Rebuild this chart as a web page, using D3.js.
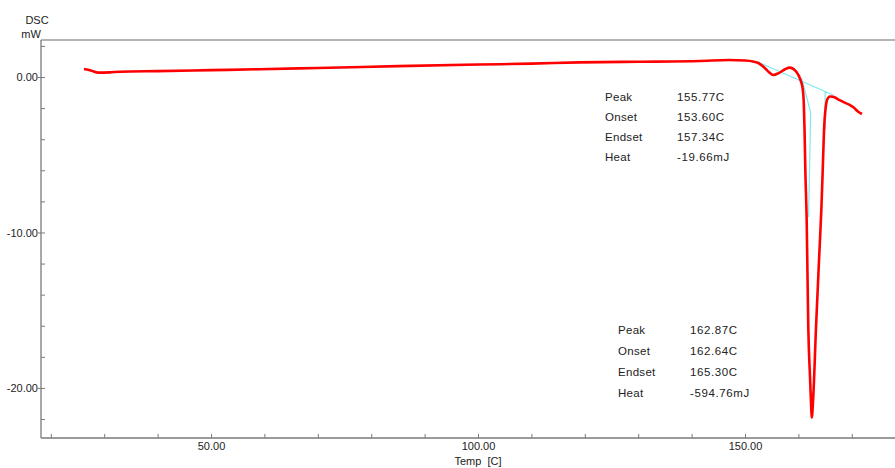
<!DOCTYPE html>
<html><head><meta charset="utf-8">
<script src="https://cdn.jsdelivr.net/npm/d3@7"></script>
<style>body{margin:0;background:#fff}svg{display:block;font-family:"Liberation Sans",Arial,sans-serif}</style>
</head><body><svg id="c" width="895" height="468"></svg>
<script>
// Temperature [C]
const temps = [26.2,27.5,28.9,31,33,40,50,59,70,85,100,110,119,130,141.6,147,150,151.5,152.5,153.5,154.5,155.3,156.3,157.5,158.4,159.2,160.0,160.5,160.8,161.0,161.15,161.3,161.55,161.85,162.2,162.4,162.5,162.75,163.3,163.9,164.3,164.6,164.8,165.1,165.4,165.9,166.5,167.5,168.5,169.5,170.3,171.2,171.9];
// DSC [mW]
const dsc = [0.51,0.42,0.28,0.30,0.34,0.38,0.44,0.50,0.58,0.70,0.80,0.86,0.94,0.98,1.03,1.09,1.06,1.00,0.90,0.65,0.30,0.13,0.25,0.50,0.60,0.48,0.13,-0.3,-0.75,-1.6,-3.4,-6.0,-9.2,-16.1,-19.5,-21.3,-21.9,-20.8,-16.1,-11.5,-8.5,-5.5,-3.4,-2.0,-1.45,-1.25,-1.27,-1.45,-1.62,-1.78,-1.95,-2.23,-2.38];
// analysis baseline / tangent lines
const baseT = [152.4,166.5];
const baseV = [0.96,-1.16];
const tanLT = [160.6,161.85,162.3,162.2,161.9];
const tanLV = [-0.08,-1.7,-2.3,-4.0,-9.0];
const tanRT = [165.3,165.0,165.0];
const tanRV = [-1.0,-1.0,-3.4];
// ticks
const xMajor = [50,100,150];
const xMinor = d3.range(20,171,10);
const yMajor = [0,-10,-20];
const yMinor = d3.range(-22,3,2);
// annotations
const ann1Labels = ["Peak","Onset","Endset","Heat"];
const ann1Values = ["155.77C","153.60C","157.34C","-19.66mJ"];
const ann2Labels = ["Peak","Onset","Endset","Heat"];
const ann2Values = ["162.87C","162.64C","165.30C","-594.76mJ"];

const svg = d3.select("#c");
const L=41, R=895, T=40, B=438;
const x = d3.scaleLinear().domain([18.16,178.09]).range([L,R]);
const y = d3.scaleLinear().domain([2.38,-23.22]).range([T,B]);
const axCol = "#7a7a7a", txt="#222";
const fmt = d => d3.format(".2f")(d).replace("\u2212","-");

// top border
svg.append("line").attr("x1",L).attr("x2",R).attr("y1",T).attr("y2",T).attr("stroke","#b4b4b4").attr("stroke-width",2);

// y axis minor (inward)
const gyMin = svg.append("g").attr("transform",`translate(${L},0)`)
  .call(d3.axisRight(y).tickValues(yMinor).tickSize(4).tickFormat("").tickSizeOuter(0));
const gyMaj = svg.append("g").attr("transform",`translate(${L},0)`)
  .call(d3.axisLeft(y).tickValues(yMajor).tickSize(3).tickPadding(0).tickFormat(fmt).tickSizeOuter(0));
// x axis
const gxMin = svg.append("g").attr("transform",`translate(0,${B})`)
  .call(d3.axisTop(x).tickValues(xMinor).tickSize(4).tickFormat("").tickSizeOuter(0));
const gxMaj = svg.append("g").attr("transform",`translate(0,${B})`)
  .call(d3.axisBottom(x).tickValues(xMajor).tickSize(0).tickPadding(4).tickFormat(fmt).tickSizeOuter(0));
[gyMin,gyMaj,gxMin,gxMaj].forEach(g=>{
  g.select(".domain").attr("stroke",axCol).attr("stroke-width",1.3);
  g.selectAll(".tick line").attr("stroke",axCol);
  g.selectAll(".tick text").attr("fill",txt).attr("font-size",11).attr("font-family","Liberation Sans, Arial, sans-serif");
});
gyMaj.select(".domain").attr("d",`M0,${T}V${B}`);
gxMaj.select(".domain").attr("d",`M${L},0H${R}`);
gyMin.select(".domain").remove(); gxMin.select(".domain").remove();

// axis titles
svg.append("text").attr("x",37).attr("y",24).attr("text-anchor","middle").attr("font-size",11).attr("fill",txt).text("DSC");
svg.append("text").attr("x",31).attr("y",38).attr("text-anchor","middle").attr("font-size",11).attr("fill",txt).text("mW");
svg.append("text").attr("x",x(100)).attr("y",465).attr("text-anchor","middle").attr("font-size",11).attr("fill",txt).text("Temp\u00a0\u00a0[C]");

// cyan analysis lines
const lineF = d3.line().x(d=>x(d[0])).y(d=>y(d[1]));
[[baseT,baseV],[tanLT,tanLV],[tanRT,tanRV]].forEach(([ts,vs])=>{
  svg.append("path").datum(ts.map((t,i)=>[t,vs[i]])).attr("d",lineF)
    .attr("fill","none").attr("stroke","#7fe8ee").attr("stroke-width",1.2);
});

// DSC curve
const pts = temps.map((t,i)=>[t,dsc[i]]);
svg.append("path").datum(pts).attr("d",d3.line().x(d=>x(d[0])).y(d=>y(d[1])).curve(d3.curveMonotoneX))
  .attr("fill","none").attr("stroke","#ff0000").attr("stroke-width",2.6).attr("stroke-linejoin","round");

// annotations
function ann(labels,values,lx,vx,y0,dy){
  labels.forEach((l,i)=>{
    svg.append("text").attr("x",lx).attr("y",y0+i*dy).attr("font-size",11.5).attr("letter-spacing",0.3).attr("fill",txt).text(l);
    svg.append("text").attr("x",vx).attr("y",y0+i*dy).attr("font-size",11.5).attr("letter-spacing",0.6).attr("fill",txt).text(values[i]);
  });
}
ann(ann1Labels,ann1Values,605,677,101,20);
ann(ann2Labels,ann2Values,618,690,334,21);
</script></body></html>
